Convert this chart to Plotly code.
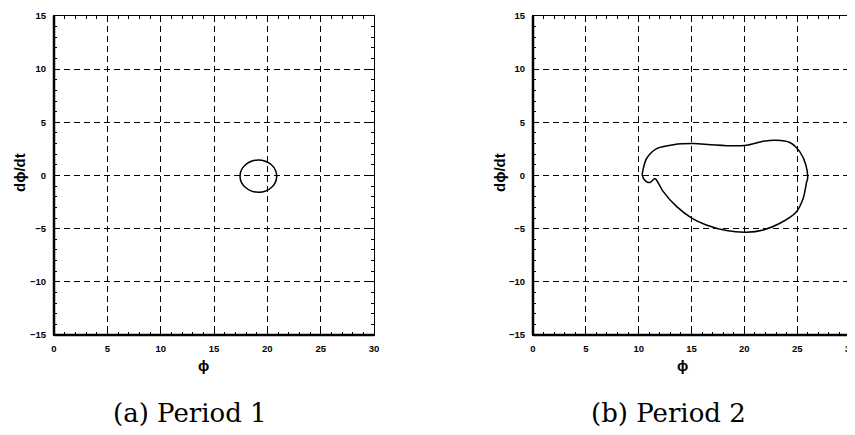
import plotly.graph_objects as go

# ---- data ----
period1_phi = [20.88, 20.75, 20.38, 19.82, 19.14, 18.50, 17.95, 17.57, 17.44,
               17.57, 17.96, 18.52, 19.22, 19.84, 20.38, 20.75, 20.88]
period1_dphi = [-0.06, 0.52, 1.01, 1.34, 1.46, 1.34, 1.01, 0.52, -0.06,
                -0.64, -1.13, -1.47, -1.58, -1.46, -1.13, -0.64, -0.06]

period2_phi = [10.34, 10.44, 10.75, 11.7, 13.3, 15.17, 16.8, 18.95, 20.2, 21.8,
               23.0, 24.3, 25.26, 25.83, 25.99, 25.9, 25.57, 24.94, 23.37, 21.8,
               20.2, 18.3, 16.4, 15.06, 13.6, 12.33, 11.7, 11.54, 11.07, 10.66, 10.34]
period2_dphi = [0.03, 0.66, 1.6, 2.53, 2.9, 3.0, 2.9, 2.79, 2.85, 3.22,
                3.31, 3.1, 2.22, 0.97, -0.28, -0.59, -2.15, -3.4, -4.49, -5.12,
                -5.34, -5.18, -4.65, -4.03, -2.93, -1.52, -0.44, -0.28, -0.65, -0.53, 0.03]

x_ticks = [0, 5, 10, 15, 20, 25, 30]
y_ticks = [-15, -10, -5, 0, 5, 10, 15]
captions = ["(a) Period 1", "(b) Period 2"]
x_title = "ϕ"
y_title = "dϕ/dt"

W, H = 855, 435
OFF = 8  # page body margin offset

def px(x):
    return (x - OFF) / W

def py(y):
    return 1 - (y - OFF) / H

fig = go.Figure()
fig.add_trace(go.Scatter(x=period1_phi, y=period1_dphi, mode="lines",
                         line=dict(color="black", width=1.5, shape="spline", smoothing=1.0),
                         xaxis="x", yaxis="y", showlegend=False))
fig.add_trace(go.Scatter(x=period2_phi, y=period2_dphi, mode="lines",
                         line=dict(color="black", width=1.5, shape="spline", smoothing=0.8),
                         xaxis="x2", yaxis="y2", showlegend=False))

tickfont = dict(family="Liberation Sans, Arial", size=9.5, color="black", weight="bold")

def common():
    return dict(ticks="inside", ticklen=5, tickwidth=1, tickcolor="black",
                minor=dict(dtick=1, ticks="inside", ticklen=3, tickcolor="black", showgrid=False),
                showline=True, linecolor="black", linewidth=1, mirror="ticks",
                showgrid=True, gridcolor="black", gridwidth=1, griddash="6px,4px",
                zeroline=False, tickfont=tickfont, ticklabelstandoff=5,
                fixedrange=True, automargin=False)

def xax(domain, anchor):
    d = common()
    d.update(domain=domain, anchor=anchor, range=[0, 30], tickvals=x_ticks)
    return d

def yax(domain, anchor):
    d = common()
    d.update(domain=domain, anchor=anchor, range=[-15, 15], tickvals=y_ticks)
    return d

ydom = [py(335), py(16)]
fig.update_layout(
    width=W, height=H,
    margin=dict(l=0, r=0, t=0, b=0, autoexpand=False),
    paper_bgcolor="white", plot_bgcolor="white",
    xaxis=xax([px(54), px(374)], "y"),
    yaxis=yax(ydom, "x"),
    xaxis2=xax([px(533), px(850)], "y2"),
    yaxis2=yax(ydom, "x2"),
)

shapes = []
for xr, yr in [("x domain", "y domain"), ("x2 domain", "y2 domain")]:
    shapes.append(dict(type="line", xref=xr, yref=yr, x0=0, x1=0, y0=0, y1=1,
                       line=dict(color="black", width=2.5)))
    shapes.append(dict(type="line", xref=xr, yref=yr, x0=0, x1=1, y0=0, y1=0,
                       line=dict(color="black", width=2.5)))
fig.update_layout(shapes=shapes)

ann = []
for xc in [19, 499]:
    ann.append(dict(x=px(xc), y=py(173), xref="paper", yref="paper", text=y_title,
                    showarrow=False, textangle=-90, xanchor="center", yanchor="middle",
                    font=dict(family="Liberation Sans, Arial", size=15, color="black", weight="bold")))
for xc in [203, 682]:
    ann.append(dict(x=px(xc), y=py(365), xref="paper", yref="paper", text=x_title,
                    showarrow=False, xanchor="center", yanchor="middle",
                    font=dict(family="Liberation Sans, Arial", size=15, color="black", weight="bold")))
for xc, txt in zip([190, 668], captions):
    ann.append(dict(x=px(xc), y=py(413), xref="paper", yref="paper", text=txt,
                    showarrow=False, xanchor="center", yanchor="middle",
                    font=dict(family="DejaVu Serif, serif", size=26, color="black")))
fig.update_layout(annotations=ann)

fig.write_html("out.html")
